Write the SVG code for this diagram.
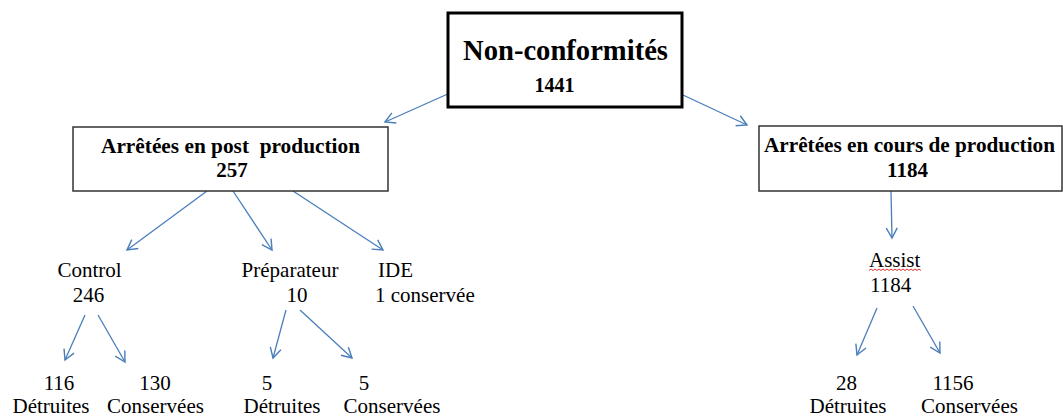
<svg xmlns="http://www.w3.org/2000/svg" width="1063" height="417" viewBox="0 0 1063 417">
<defs>
<style>
.b{font-family:"Liberation Serif","Times New Roman",serif;font-weight:bold;fill:#000}
.r{font-family:"Liberation Serif","Times New Roman",serif;font-size:21px;fill:#000}
.c{text-anchor:middle}
.box{fill:#fff;stroke:#333;stroke-width:1.5}
.conn line{stroke:#4a7ebb;stroke-width:1.3;marker-end:url(#ah)}
</style>
<marker id="ah" markerUnits="userSpaceOnUse" markerWidth="14" markerHeight="14" viewBox="0 0 14 14" refX="12" refY="7" orient="auto">
<path d="M2,1.5 L12,7 L2,12.5" fill="none" stroke="#4a7ebb" stroke-width="1.4"/>
</marker>
</defs>
<rect width="1063" height="417" fill="#fff"/>
<g id="conn" class="conn">
<line x1="450" y1="93" x2="385" y2="122"/>
<line x1="683" y1="95" x2="747" y2="125"/>
<line x1="207" y1="191" x2="127" y2="250"/>
<line x1="233" y1="191" x2="272" y2="250"/>
<line x1="293" y1="191" x2="383" y2="250"/>
<line x1="85" y1="315" x2="65" y2="360"/>
<line x1="98" y1="315" x2="125" y2="362"/>
<line x1="286" y1="310" x2="273" y2="358"/>
<line x1="300" y1="310" x2="352" y2="358"/>
<line x1="891" y1="191" x2="892" y2="238"/>
<line x1="877" y1="308" x2="857" y2="355"/>
<line x1="913" y1="306" x2="940" y2="353"/>
</g>
<g id="root">
<rect x="448" y="13" width="234" height="94" fill="#fff" stroke="#000" stroke-width="3"/>
<text class="b" x="463" y="60" font-size="28.5" textLength="205" lengthAdjust="spacingAndGlyphs">Non-conformités</text>
<text class="b c" x="554.5" y="92" font-size="20">1441</text>
</g>
<g id="post">
<rect class="box" x="73" y="127" width="315" height="64"/>
<text class="b" x="101" y="153" font-size="21" xml:space="preserve" textLength="259" lengthAdjust="spacingAndGlyphs">Arrêtées en post  production</text>
<text class="b c" x="232" y="177" font-size="21">257</text>
</g>
<g id="cours">
<rect class="box" x="759" y="126" width="303" height="65"/>
<text class="b" x="764" y="152" font-size="21" textLength="291" lengthAdjust="spacingAndGlyphs">Arrêtées en cours de production</text>
<text class="b c" x="907.5" y="177" font-size="21">1184</text>
</g>
<g id="control">
<text class="r c" x="89.5" y="277">Control</text>
<text class="r c" x="88.5" y="302">246</text>
</g>
<g id="preparateur">
<text class="r c" x="290" y="277">Préparateur</text>
<text class="r c" x="297" y="302">10</text>
</g>
<g id="ide">
<text class="r" x="378" y="277">IDE</text>
<text class="r" x="375" y="302">1 conservée</text>
</g>
<g id="assist">
<text class="r" x="869" y="267">Assist</text>
<path d="M869,270.5 l2,-1.5 l2,1.5 l2,-1.5 l2,1.5 l2,-1.5 l2,1.5 l2,-1.5 l2,1.5 l2,-1.5 l2,1.5 l2,-1.5 l2,1.5 l2,-1.5 l2,1.5 l2,-1.5 l2,1.5 l2,-1.5 l2,1.5 l2,-1.5 l2,1.5 l2,-1.5 l2,1.5 l2,-1.5 l2,1.5 l2,-1.5 l2,1.5" fill="none" stroke="#e03030" stroke-width="1"/>
<text class="r" x="870" y="292">1184</text>
</g>
<g id="c-detruites">
<text class="r c" x="59" y="390">116</text>
<text class="r c" x="51" y="413">Détruites</text>
</g>
<g id="c-conservees">
<text class="r c" x="155" y="390">130</text>
<text class="r c" x="155.5" y="413">Conservées</text>
</g>
<g id="p-detruites">
<text class="r c" x="267" y="390">5</text>
<text class="r c" x="282" y="413">Détruites</text>
</g>
<g id="p-conservees">
<text class="r c" x="364" y="390">5</text>
<text class="r c" x="392" y="413">Conservées</text>
</g>
<g id="a-detruites">
<text class="r c" x="846.5" y="390">28</text>
<text class="r c" x="848" y="413">Détruites</text>
</g>
<g id="a-conservees">
<text class="r c" x="953" y="390">1156</text>
<text class="r c" x="969.5" y="413">Conservées</text>
</g>
</svg>
